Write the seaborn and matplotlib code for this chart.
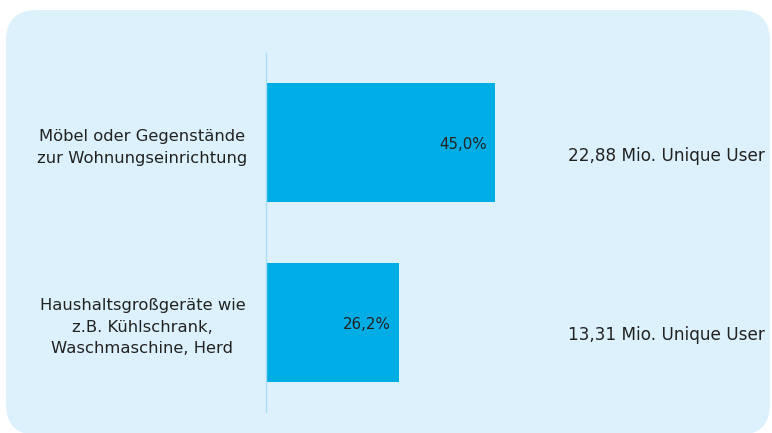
import matplotlib
matplotlib.use("Agg")
import matplotlib.pyplot as plt
from matplotlib.patches import FancyBboxPatch
import seaborn as sns
import pandas as pd

categories = ["Möbel oder Gegenstände\nzur Wohnungseinrichtung",
              "Haushaltsgroßgeräte wie\nz.B. Kühlschrank,\nWaschmaschine, Herd"]
shares = [45.0, 26.2]
share_labels = ["45,0%", "26,2%"]
user_labels = ["22,88 Mio. Unique User", "13,31 Mio. Unique User"]

df = pd.DataFrame({"cat": categories, "share": shares})

sns.set_theme(style="white")
plt.rcParams["font.family"] = ["DejaVu Sans"]

W, H = 772, 433
fig = plt.figure(figsize=(W / 100, H / 100), dpi=100)
fig.patch.set_facecolor("white")

bg = FancyBboxPatch((6 / W, -2 / H), (W - 8) / W, (H - 8) / H,
                    boxstyle="round,pad=0,rounding_size=0.04",
                    transform=fig.transFigure, facecolor="#DDF1FD",
                    edgecolor="none", zorder=-10, mutation_aspect=W / H)
fig.patches.append(bg)

left = 266 / W
bottom = 1 - 412 / H
height = (412 - 53) / H
xmax = 60
width = xmax * 5.09 / W
ax = fig.add_axes([left, bottom, width, height])
ax.set_facecolor("none")
ax.set_zorder(5)

sns.barplot(data=df, x="share", y="cat", orient="h", color="#00ADE5",
            width=0.665, saturation=1, linewidth=0, ax=ax)
ax.set_xlim(0, xmax)
ax.set_ylim(1.5, -0.5)
ax.set_xlabel("")
ax.set_ylabel("")
ax.set_xticks([])
for s in ["top", "right", "bottom"]:
    ax.spines[s].set_visible(False)
ax.spines["left"].set_color("#A8DDF5")
ax.spines["left"].set_linewidth(1.0)

ax.tick_params(axis="y", length=0, pad=89)
for lbl in ax.get_yticklabels():
    lbl.set_ha("center")
    lbl.set_multialignment("center")
    lbl.set_fontsize(11.8)
    lbl.set_color("#222222")
    lbl.set_linespacing(1.55)

for i, (v, t) in enumerate(zip(shares, share_labels)):
    ax.annotate(t, xy=(v, i), xytext=(-6, -1.5), textcoords="offset points",
                ha="right", va="center", fontsize=10.8, color="#222222")

for i, t in enumerate(user_labels):
    ax.annotate(t, xy=(1, i), xycoords=("figure fraction", "data"),
                xytext=(-7 * 0.72, -9.5), textcoords="offset points",
                ha="right", va="center", fontsize=12.2, color="#222222",
                annotation_clip=False)

fig.savefig("out.png", dpi=100)
